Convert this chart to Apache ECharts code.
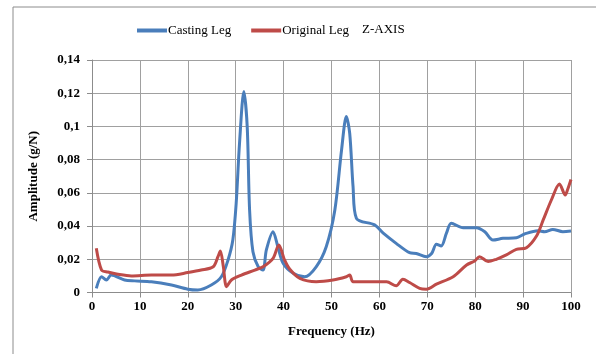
<!DOCTYPE html>
<html>
<head>
<meta charset="utf-8">
<script src="https://cdn.jsdelivr.net/npm/echarts@6/dist/echarts.min.js"></script>
<style>
html,body{margin:0;padding:0;background:#fff;}
#chart{width:596px;height:354px;}
</style>
</head>
<body>
<div id="chart"></div>
<script>
var legendNames = ["Casting Leg", "Original Leg"];
var chartTitle = "Z-AXIS";
var xAxisName = "Frequency (Hz)";
var yAxisName = "Amplitude (g/N)";

var castingFreq = [0.9, 2.0, 3.0, 4.0, 6.8, 8.9, 12.4, 16.6, 20.0, 22.1, 24.9, 27.0, 28.4, 29.4, 30.1, 30.8, 31.7, 32.4, 32.9, 33.6, 34.7, 35.7, 36.4, 37.8, 38.8, 39.9, 42.0, 44.4, 46.8, 48.9, 50.7, 52.1, 53.1, 53.8, 54.5, 55.2, 59.0, 60.8, 63.5, 66.3, 67.7, 69.8, 70.9, 71.9, 72.9, 74.0, 75.0, 77.5, 80.2, 82.0, 83.7, 85.8, 88.6, 90.3, 93.1, 94.5, 96.2, 98.3, 100];
var castingAmp = [0.0025, 0.0095, 0.0075, 0.0105, 0.0075, 0.007, 0.0065, 0.0045, 0.002, 0.0015, 0.0045, 0.0095, 0.0196, 0.0316, 0.0537, 0.090, 0.121, 0.100, 0.0497, 0.0245, 0.0155, 0.0135, 0.0256, 0.0366, 0.0276, 0.0176, 0.0116, 0.0095, 0.0155, 0.0276, 0.0497, 0.0858, 0.106, 0.0959, 0.0637, 0.0447, 0.0407, 0.0357, 0.0296, 0.024, 0.0235, 0.0216, 0.0235, 0.029, 0.028, 0.0357, 0.0417, 0.039, 0.039, 0.0366, 0.0316, 0.0326, 0.033, 0.0352, 0.0372, 0.0366, 0.038, 0.0366, 0.037];

var originalFreq = [0.9, 2.0, 3.3, 5.4, 8.2, 12.4, 16.6, 20.0, 22.8, 25.3, 26.3, 26.8, 27.4, 28.1, 29.1, 31.2, 34.0, 35.7, 37.8, 39.0, 40.2, 41.3, 43.4, 46.8, 50.3, 53.1, 53.8, 54.5, 57.0, 61.5, 63.5, 64.9, 66.3, 68.4, 69.8, 71.9, 75.4, 78.2, 79.9, 80.9, 82.7, 84.4, 86.5, 88.6, 90.7, 92.8, 94.2, 95.9, 97.6, 98.8, 99.3, 100];
var originalAmp = [0.0266, 0.0135, 0.0123, 0.011, 0.010, 0.0105, 0.0105, 0.012, 0.0135, 0.0155, 0.0216, 0.025, 0.016, 0.0035, 0.0075, 0.0105, 0.0135, 0.0155, 0.0206, 0.0286, 0.0196, 0.014, 0.0085, 0.0065, 0.0075, 0.0095, 0.0105, 0.0065, 0.0065, 0.0065, 0.004, 0.008, 0.006, 0.0025, 0.002, 0.005, 0.0095, 0.0166, 0.019, 0.0216, 0.0186, 0.020, 0.0226, 0.026, 0.027, 0.034, 0.0437, 0.0557, 0.0653, 0.0587, 0.062, 0.068];

function pairs(xs, ys) {
  return xs.map(function (x, i) { return [x, ys[i]]; });
}

var serif = "'Liberation Serif', 'DejaVu Serif', serif";
var chart = echarts.init(document.getElementById('chart'), null, {renderer: 'canvas'});
chart.setOption({
  animation: false,
  backgroundColor: '#ffffff',
  graphic: [{
    type: 'rect',
    shape: {x: 13, y: 7, width: 600, height: 400},
    style: {fill: 'none', stroke: '#8c8c8c', lineWidth: 1},
    silent: true
  }, {
    type: 'text',
    x: 362,
    y: 30,
    style: {text: chartTitle, font: '13px ' + serif, fill: '#000', textVerticalAlign: 'middle', verticalAlign: 'middle'}
  }],
  legend: {
    left: 132,
    top: 19,
    itemWidth: 30,
    itemHeight: 4,
    itemGap: 20,
    icon: 'rect',
    textStyle: {fontFamily: serif, fontSize: 13, color: '#000', padding: [0,0,0,-4]},
    data: legendNames
  },
  grid: {left: 92, right: 25, top: 60, bottom: 61.5, containLabel: false},
  xAxis: {
    type: 'value',
    min: 0, max: 100, interval: 10,
    name: xAxisName,
    nameLocation: 'middle',
    nameGap: 33,
    nameTextStyle: {fontFamily: serif, fontSize: 13, fontWeight: 'bold', color: '#000'},
    axisLine: {show: true, lineStyle: {color: '#8c8c8c', width: 1}},
    axisTick: {show: true, length: 5, lineStyle: {color: '#8c8c8c'}},
    axisLabel: {fontFamily: serif, fontSize: 13, fontWeight: 'bold', color: '#000', margin: 8},
    splitLine: {show: true, lineStyle: {color: '#a0a0a0', width: 1}}
  },
  yAxis: {
    type: 'value',
    min: 0, max: 0.14, interval: 0.02,
    name: yAxisName,
    nameLocation: 'middle',
    nameGap: 52,
    nameRotate: 90,
    nameTextStyle: {fontFamily: serif, fontSize: 13, fontWeight: 'bold', color: '#000'},
    axisLine: {show: true, lineStyle: {color: '#8c8c8c', width: 1}},
    axisTick: {show: true, length: 5, lineStyle: {color: '#8c8c8c'}},
    axisLabel: {
      fontFamily: serif, fontSize: 13, fontWeight: 'bold', color: '#000', margin: 12,
      formatter: function (v) { return String(Number(v.toFixed(2))).replace('.', ','); }
    },
    splitLine: {show: true, lineStyle: {color: '#a0a0a0', width: 1}}
  },
  series: [{
    name: legendNames[0],
    type: 'line',
    data: pairs(castingFreq, castingAmp),
    smooth: 0.3,
    showSymbol: false,
    lineStyle: {color: '#4a7ebb', width: 3},
    itemStyle: {color: '#4a7ebb'},
    z: 3
  }, {
    name: legendNames[1],
    type: 'line',
    data: pairs(originalFreq, originalAmp),
    smooth: 0.3,
    showSymbol: false,
    lineStyle: {color: '#be4b48', width: 3},
    itemStyle: {color: '#be4b48'},
    z: 4
  }]
});
</script>
</body>
</html>
